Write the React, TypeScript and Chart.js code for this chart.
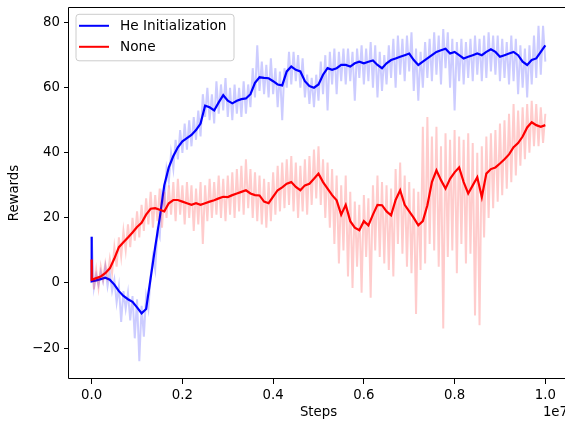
import React, { useEffect, useRef } from "react";
import { Chart, registerables } from "chart.js";

Chart.register(...registerables);

const STEP_SCALE = 1e7;
const RAW_INTERVAL = 5e4;
const SMOOTH_INTERVAL = 1e5;
const X_TICKS = [0, 2e6, 4e6, 6e6, 8e6, 1e7];
const Y_TICKS = [-20, 0, 20, 40, 60, 80];
const SERIES_NAMES = ["He Initialization", "None"];

const HE_START = 14.2;
const NONE_START = 7.2;

const HE_RAW = [
  14.2, -1.5, 2.5, -0.5, 3.5, 0.5, 5.0, -1.0, 3.0, -2.5,
  1.0, -6.0, -1.0, -12.0, -2.5, -8.0, -3.0, -11.5, -4.0, -17.0,
  -5.0, -24.0, -7.0, -16.5, -4.0, -8.0, 2.0, 8.0, 4.0, 16.0,
  14.0, 27.0, 24.0, 35.0, 31.0, 40.0, 35.0, 44.0, 38.0, 47.0,
  40.0, 49.0, 41.0, 50.0, 42.0, 51.0, 44.0, 53.0, 45.0, 58.0,
  51.0, 60.0, 50.0, 58.0, 49.0, 62.0, 52.0, 61.0, 53.0, 63.0,
  51.0, 60.0, 50.0, 61.0, 52.0, 60.0, 51.0, 62.0, 52.0, 61.0,
  54.0, 66.0, 57.0, 73.0, 59.0, 68.0, 58.0, 67.0, 57.0, 69.0,
  58.0, 66.0, 54.0, 65.0, 50.0, 66.0, 60.0, 71.0, 61.0, 71.0,
  62.0, 70.0, 60.0, 69.0, 57.0, 64.0, 55.0, 63.0, 54.0, 64.0,
  56.0, 68.0, 58.0, 70.0, 53.0, 71.0, 61.0, 72.0, 58.0, 71.0,
  62.0, 72.0, 61.0, 72.0, 62.0, 71.0, 56.0, 72.0, 63.0, 73.0,
  61.0, 72.0, 62.0, 74.0, 60.0, 73.0, 57.0, 71.0, 59.0, 70.0,
  61.0, 73.0, 63.0, 75.0, 60.0, 76.0, 64.0, 75.0, 62.0, 76.0,
  65.0, 77.0, 59.0, 72.0, 56.0, 71.0, 60.0, 74.0, 63.0, 75.0,
  62.0, 77.0, 64.0, 76.0, 61.0, 78.0, 66.0, 77.0, 60.0, 75.0,
  53.0, 74.0, 62.0, 75.0, 61.0, 74.0, 63.0, 75.0, 62.0, 76.0,
  64.0, 75.0, 62.0, 76.0, 63.0, 77.0, 65.0, 76.0, 64.0, 76.0,
  62.0, 75.0, 63.0, 74.0, 61.0, 76.0, 62.0, 75.0, 58.0, 73.0,
  60.0, 72.0, 57.0, 73.0, 61.0, 76.0, 63.0, 79.0, 64.0, 79.0,
  68.0,
];

const HE_SMOOTH = [
  0.5, 0.8, 1.2, 1.6, 1.0, -0.5, -2.5, -4.0, -5.0, -5.8,
  -7.5, -9.3, -8.0, 1.5, 11.0, 20.0, 30.0, 35.5, 39.0, 41.7,
  43.5, 44.5, 45.5, 47.0, 49.0, 54.5, 54.0, 53.0, 55.5, 57.7,
  56.0, 55.2, 56.0, 56.5, 56.7, 58.0, 61.5, 63.2, 63.0, 62.9,
  62.0, 61.0, 60.7, 65.0, 66.5, 65.5, 65.0, 62.0, 60.5, 60.0,
  61.0, 64.0, 66.0, 65.5, 66.0, 67.0, 67.0, 66.5, 67.5, 68.0,
  67.5, 68.0, 68.4, 67.0, 66.0, 67.5, 68.5, 69.0, 69.5, 70.0,
  70.5, 68.5, 67.0, 68.0, 69.0, 70.0, 71.0, 71.5, 72.0, 70.5,
  71.0, 70.0, 69.0, 69.5, 70.0, 70.5, 70.0, 71.0, 71.8, 71.0,
  69.5, 70.0, 70.5, 71.0, 70.0, 68.0, 67.0, 68.5, 69.0, 71.0,
  73.0,
];

const NONE_RAW = [
  7.2, -2.0, 4.0, -1.5, 5.0, 1.0, 6.0, 2.0, 7.5, 3.0,
  11.0, 5.0, 14.0, 8.0, 16.0, 10.0, 18.0, 11.0, 20.0, 13.0,
  22.0, 14.0, 24.0, 16.0, 26.0, 18.0, 28.0, 17.0, 27.0, 19.0,
  29.0, 17.0, 28.0, 20.0, 30.0, 21.0, 31.0, 19.0, 32.0, 21.0,
  30.0, 18.0, 31.0, 20.0, 30.0, 16.0, 29.0, 18.0, 31.0, 12.0,
  30.0, 19.0, 32.0, 20.0, 31.0, 21.0, 33.0, 20.0, 32.0, 19.0,
  33.0, 21.0, 34.0, 20.0, 35.0, 22.0, 36.0, 21.0, 38.0, 23.0,
  35.0, 20.0, 34.0, 19.0, 33.0, 18.0, 32.0, 17.0, 31.0, 19.0,
  34.0, 21.0, 36.0, 22.0, 37.0, 23.0, 38.0, 24.0, 39.0, 22.0,
  37.0, 20.0, 36.0, 22.0, 38.0, 21.0, 39.0, 24.0, 41.0, 26.0,
  42.0, 24.0, 38.0, 20.0, 37.0, 17.0, 35.0, 12.0, 33.0, 6.0,
  30.0, 10.0, 33.0, 2.0, 28.0, -1.5, 25.0, 5.0, 24.0, -3.0,
  27.0, 8.0, 26.0, -4.5, 30.0, 10.0, 33.0, 8.0, 31.0, 6.0,
  30.0, 4.0, 29.0, 2.0, 35.0, 12.0, 37.0, 9.0, 33.0, 5.0,
  31.0, 3.0, 29.0, -9.5, 28.0, 4.0, 48.0, 6.0, 51.0, 12.0,
  45.0, 10.0, 48.0, 5.0, 42.0, -14.0, 46.0, 8.0, 44.0, 10.0,
  47.0, 3.0, 45.0, 12.0, 44.0, 6.0, 46.0, 9.0, 43.0, -10.0,
  40.0, -13.0, 42.0, 14.0, 45.0, 20.0, 46.0, 23.0, 47.0, 25.0,
  49.0, 27.0, 50.0, 29.0, 52.0, 31.0, 55.0, 33.0, 53.0, 36.0,
  54.0, 38.0, 55.0, 40.0, 56.0, 42.0, 55.0, 42.0, 54.0, 43.0,
  52.0,
];

const NONE_SMOOTH = [
  1.0, 1.5, 2.0, 3.0, 4.5, 7.5, 11.0, 12.5, 14.0, 15.5,
  17.2, 18.5, 21.0, 22.8, 23.0, 22.5, 22.0, 24.5, 25.5, 25.5,
  25.0, 24.5, 24.0, 24.5, 24.0, 24.5, 25.0, 25.4, 26.0, 26.5,
  26.4, 27.0, 27.5, 28.0, 28.5, 27.5, 27.0, 26.9, 25.0, 24.5,
  26.5, 28.5, 29.4, 30.5, 31.0, 29.5, 28.5, 30.0, 30.5, 32.0,
  33.6, 31.0, 29.0, 27.0, 25.4, 21.0, 24.0, 19.0, 17.0, 16.2,
  19.0, 17.7, 21.0, 24.0, 23.9, 22.0, 20.8, 25.5, 28.5, 24.0,
  22.0, 20.0, 17.7, 19.0, 23.9, 31.0, 34.6, 31.6, 29.0, 32.0,
  34.0, 35.5, 31.0, 27.5, 30.0, 32.5, 26.4, 33.6, 35.0, 35.5,
  36.7, 38.0, 39.5, 41.7, 43.0, 45.0, 47.8, 49.4, 48.5, 48.0,
  48.5,
];

const FONT_FAMILY = "'DejaVu Sans', sans-serif";
const FONT_SIZE = 13.3;
const LEGEND_FONT_SIZE = 13.7;
const BLUE = "rgb(0,0,255)";
const RED = "rgb(255,0,0)";
const BLUE_LIGHT = "rgba(0,0,255,0.2)";
const RED_LIGHT = "rgba(255,0,0,0.2)";

const toPoints = (values: number[], interval: number) =>
  values.map((y, i) => ({ x: i * interval, y }));

const framePlugin = {
  id: "frame",
  afterDatasetsDraw(chart: any) {
    const { ctx, chartArea } = chart;
    const l = Math.round(chartArea.left) - 0.5;
    const t = Math.round(chartArea.top) + 0.5;
    const r = Math.round(chartArea.right) - 0.5;
    const b = Math.round(chartArea.bottom) - 0.5;
    ctx.save();
    ctx.strokeStyle = "#000";
    ctx.lineWidth = 1;
    ctx.beginPath();
    ctx.moveTo(l, b);
    ctx.lineTo(l, t);
    ctx.lineTo(r, t);
    ctx.lineTo(r, b);
    ctx.lineTo(l, b);
    ctx.stroke();
    ctx.restore();
  },
};

const legendPlugin = {
  id: "mplLegend",
  afterDraw(chart: any) {
    const { ctx, chartArea } = chart;
    const x0 = chartArea.left + 7;
    const y0 = chartArea.top + 7.3;
    const w = 158;
    const h = 46.5;
    const rad = 3;
    ctx.save();
    ctx.beginPath();
    ctx.moveTo(x0 + rad, y0);
    ctx.lineTo(x0 + w - rad, y0);
    ctx.arcTo(x0 + w, y0, x0 + w, y0 + rad, rad);
    ctx.lineTo(x0 + w, y0 + h - rad);
    ctx.arcTo(x0 + w, y0 + h, x0 + w - rad, y0 + h, rad);
    ctx.lineTo(x0 + rad, y0 + h);
    ctx.arcTo(x0, y0 + h, x0, y0 + h - rad, rad);
    ctx.lineTo(x0, y0 + rad);
    ctx.arcTo(x0, y0, x0 + rad, y0, rad);
    ctx.closePath();
    ctx.fillStyle = "rgba(255,255,255,0.8)";
    ctx.fill();
    ctx.strokeStyle = "rgb(204,204,204)";
    ctx.lineWidth = 1;
    ctx.stroke();
    const colors = [BLUE, RED];
    SERIES_NAMES.forEach((name, i) => {
      const yy = y0 + 11.5 + i * 21;
      ctx.beginPath();
      ctx.strokeStyle = colors[i];
      ctx.lineWidth = 2;
      ctx.moveTo(x0 + 3, yy);
      ctx.lineTo(x0 + 33, yy);
      ctx.stroke();
      ctx.fillStyle = "#000";
      ctx.font = `${LEGEND_FONT_SIZE}px ${FONT_FAMILY}`;
      ctx.textAlign = "left";
      ctx.textBaseline = "middle";
      ctx.fillText(name, x0 + 44, yy + 0.5);
    });
    ctx.restore();
  },
};

const offsetTextPlugin = {
  id: "offsetText",
  afterDraw(chart: any) {
    const { ctx, chartArea } = chart;
    ctx.save();
    ctx.fillStyle = "#000";
    ctx.font = `${FONT_SIZE}px ${FONT_FAMILY}`;
    ctx.textAlign = "right";
    ctx.textBaseline = "middle";
    ctx.fillText("1e7", chartArea.right, 413);
    ctx.restore();
  },
};

export default function App() {
  const canvasRef = useRef<HTMLCanvasElement | null>(null);

  useEffect(() => {
    if (!canvasRef.current) return;
    const font = { family: FONT_FAMILY, size: FONT_SIZE };
    const chart = new Chart(canvasRef.current, {
      type: "line",
      data: {
        datasets: [
          {
            label: SERIES_NAMES[0] + " raw",
            data: toPoints(HE_RAW, RAW_INTERVAL),
            borderColor: BLUE_LIGHT,
            borderWidth: 2,
            pointRadius: 0,
            tension: 0,
            order: 4,
          },
          {
            label: SERIES_NAMES[0],
            data: [{ x: 0, y: HE_START }, ...toPoints(HE_SMOOTH, SMOOTH_INTERVAL)],
            borderColor: BLUE,
            borderWidth: 2.2,
            pointRadius: 0,
            tension: 0,
            order: 3,
          },
          {
            label: SERIES_NAMES[1] + " raw",
            data: toPoints(NONE_RAW, RAW_INTERVAL),
            borderColor: RED_LIGHT,
            borderWidth: 2,
            pointRadius: 0,
            tension: 0,
            order: 2,
          },
          {
            label: SERIES_NAMES[1],
            data: [{ x: 0, y: NONE_START }, ...toPoints(NONE_SMOOTH, SMOOTH_INTERVAL)],
            borderColor: RED,
            borderWidth: 2.2,
            pointRadius: 0,
            tension: 0,
            order: 1,
          },
        ],
      },
      options: {
        responsive: false,
        animation: false,
        events: [],
        layout: { padding: { top: 7, right: 4, bottom: 0, left: 0 } },
        plugins: {
          legend: { display: false },
          tooltip: { enabled: false },
        },
        scales: {
          x: {
            type: "linear",
            min: -0.05 * STEP_SCALE,
            max: 1.05 * STEP_SCALE,
            afterBuildTicks: (s: any) => {
              s.ticks = X_TICKS.map((v) => ({ value: v }));
            },
            afterFit: (s: any) => {
              s.height = 42;
              s.paddingLeft = 0;
              s.paddingRight = 0;
            },
            ticks: {
              callback: (v: any) => (Number(v) / STEP_SCALE).toFixed(1),
              font,
              color: "#000",
              padding: 4,
              maxRotation: 0,
              autoSkip: false,
            },
            grid: {
              drawOnChartArea: false,
              drawTicks: true,
              tickLength: 5,
              color: "#000",
              lineWidth: 1,
            },
            border: { display: false },
            title: {
              display: true,
              text: "Steps",
              font,
              color: "#000",
              padding: { top: 0, bottom: 0 },
            },
          },
          y: {
            type: "linear",
            min: -29.5,
            max: 84.8,
            afterBuildTicks: (s: any) => {
              s.ticks = Y_TICKS.map((v) => ({ value: v }));
            },
            afterFit: (s: any) => {
              s.width = 69;
              s.paddingTop = 0;
              s.paddingBottom = 0;
            },
            ticks: {
              callback: (v: any) => String(v).replace("-", "\u2212"),
              font,
              color: "#000",
              padding: 4,
              autoSkip: false,
            },
            grid: {
              drawOnChartArea: false,
              drawTicks: true,
              tickLength: 5,
              color: "#000",
              lineWidth: 1,
            },
            border: { display: false },
            title: {
              display: true,
              text: "Rewards",
              font,
              color: "#000",
              padding: { top: 7, bottom: 0 },
            },
          },
        },
      },
      plugins: [framePlugin, legendPlugin, offsetTextPlugin],
    } as any);
    return () => chart.destroy();
  }, []);

  return (
    <div
      style={{
        position: "fixed",
        left: 0,
        top: 0,
        width: 565,
        height: 421,
        overflow: "hidden",
        background: "#fff",
      }}
    >
      <canvas
        ref={canvasRef}
        width={572}
        height={421}
        style={{ display: "block", width: 572, height: 421 }}
      />
    </div>
  );
}
